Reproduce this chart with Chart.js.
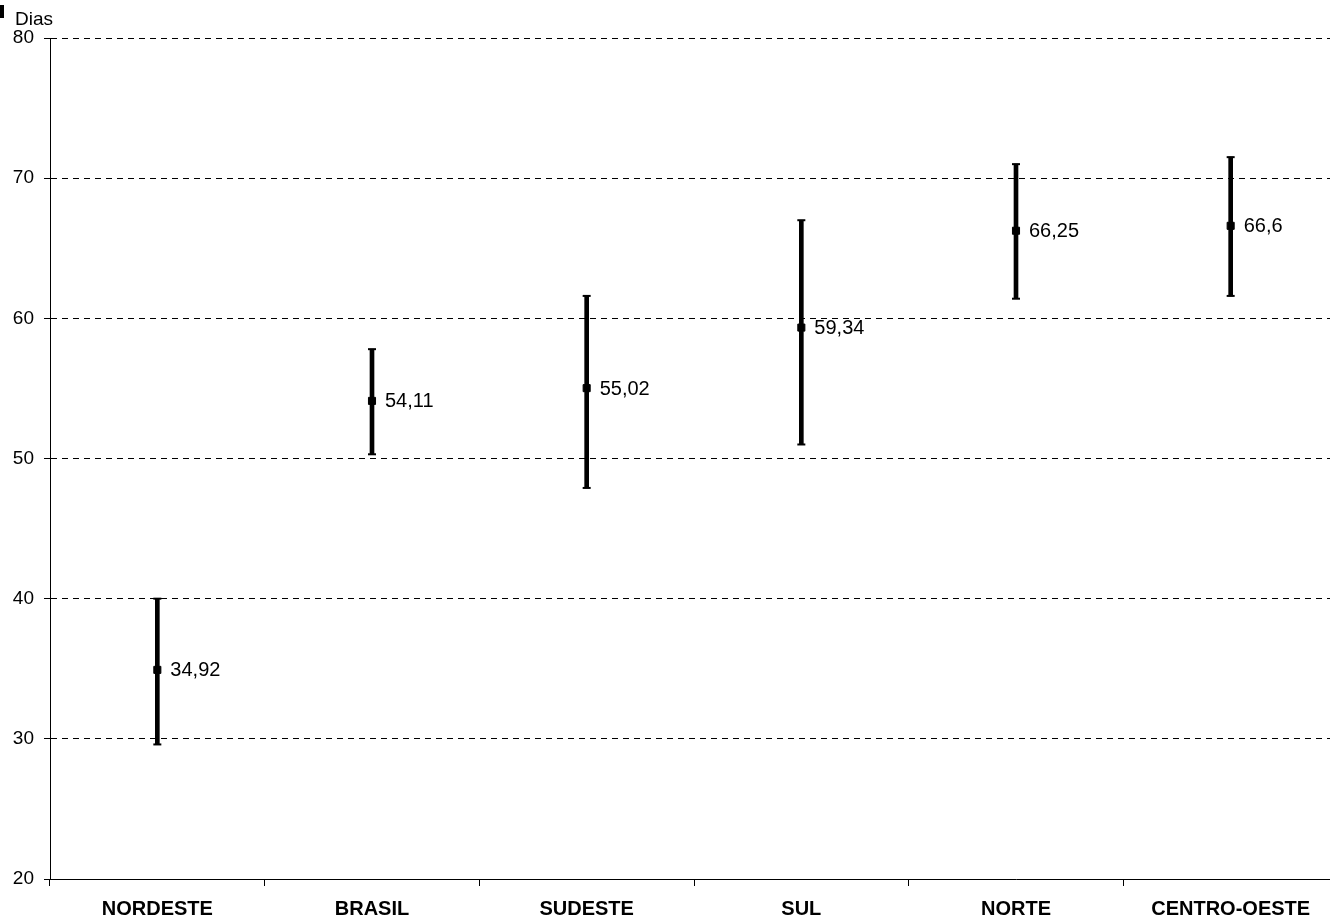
<!DOCTYPE html>
<html lang="pt">
<head>
<meta charset="utf-8">
<title>Dias por região</title>
<script src="https://cdn.jsdelivr.net/npm/chart.js@4/dist/chart.umd.min.js"></script>
<style>
    html, body { margin: 0; padding: 0; background: #fff; overflow: hidden; }
    #chartBox { width: 1344px; height: 920px; }
</style>
</head>
<body>
<div id="chartBox"><canvas id="diasChart" width="1344" height="920"></canvas></div>
<script>
// Data
const regions = ['NORDESTE', 'BRASIL', 'SUDESTE', 'SUL', 'NORTE', 'CENTRO-OESTE'];
const meanDays = [34.92, 54.11, 55.02, 59.34, 66.25, 66.6];
const lowerDays = [29.6, 50.3, 47.9, 51.0, 61.4, 61.6];
const upperDays = [40.0, 57.8, 61.6, 67.0, 71.0, 71.5];
const yTicks = [20, 30, 40, 50, 60, 70, 80];

const FONT = 'Arial, "Liberation Sans", sans-serif';

// Chart instance
let diasChart = null;

// Small header: black marker + "Dias" unit label
const headerPlugin = {
    id: 'headerPlugin',
    afterDraw(chart) {
        const ctx = chart.ctx;
        ctx.save();
        ctx.fillStyle = '#000';
        ctx.fillRect(0, 5, 4, 13);
        ctx.font = '19px ' + FONT;
        ctx.textAlign = 'left';
        ctx.textBaseline = 'alphabetic';
        ctx.fillText('Dias', 15, 25);
        ctx.restore();
    }
};

// Value labels to the right of each mean marker
const valueLabelPlugin = {
    id: 'valueLabelPlugin',
    afterDatasetsDraw(chart) {
        const ctx = chart.ctx;
        const meta = chart.getDatasetMeta(2);
        ctx.save();
        ctx.fillStyle = '#000';
        ctx.font = '20px ' + FONT;
        ctx.textAlign = 'left';
        ctx.textBaseline = 'middle';
        meta.data.forEach((pt, i) => {
            const txt = String(meanDays[i]).replace('.', ',');
            ctx.fillText(txt, pt.x + 13, pt.y + 1);
        });
        ctx.restore();
    }
};

function initializeChart() {
    const ctx = document.getElementById('diasChart');
    if (!ctx || typeof Chart === 'undefined') {
        console.warn('Chart.js not loaded');
        return;
    }
    if (diasChart) diasChart.destroy();

    const ranges = regions.map((r, i) => [lowerDays[i], upperDays[i]]);

    diasChart = new Chart(ctx, {
        type: 'bar',
        data: {
            labels: regions,
            datasets: [{
                // vertical error bar
                type: 'bar',
                data: ranges,
                backgroundColor: '#000',
                borderWidth: 0,
                barThickness: 4,
                order: 3
            }, {
                // lower cap
                type: 'line',
                data: lowerDays,
                showLine: false,
                pointStyle: 'line',
                pointRadius: 4,
                borderWidth: 2,
                borderColor: '#000',
                order: 2
            }, {
                // mean marker
                type: 'line',
                data: meanDays,
                showLine: false,
                pointStyle: 'rect',
                pointRadius: 5,
                borderWidth: 1,
                borderColor: '#000',
                backgroundColor: '#000',
                order: 1
            }, {
                // upper cap
                type: 'line',
                data: upperDays,
                showLine: false,
                pointStyle: 'line',
                pointRadius: 4,
                borderWidth: 2,
                borderColor: '#000',
                order: 2
            }]
        },
        options: {
            responsive: false,
            animation: false,
            events: [],
            layout: { padding: { top: 38, right: 4, left: 0, bottom: 0 } },
            plugins: {
                legend: { display: false },
                tooltip: { enabled: false }
            },
            scales: {
                x: {
                    offset: true,
                    grid: {
                        offset: true,
                        drawOnChartArea: false,
                        drawTicks: true,
                        tickLength: 7,
                        tickColor: '#000',
                        color: '#000'
                    },
                    border: { display: true, color: '#000', width: 1 },
                    ticks: {
                        color: '#000',
                        padding: 11,
                        maxRotation: 0,
                        autoSkip: false,
                        font: { family: FONT, size: 20, weight: 'bold' }
                    },
                    afterFit(scale) { scale.height = 41; }
                },
                y: {
                    min: 20,
                    max: 80,
                    afterBuildTicks(scale) {
                        scale.ticks = yTicks.map(v => ({ value: v }));
                    },
                    grid: {
                        color: '#000',
                        lineWidth: 1,
                        drawTicks: true,
                        tickLength: 6,
                        tickColor: '#000',
                        tickBorderDash: []
                    },
                    border: { display: true, color: '#000', width: 1, dash: [6, 5] },
                    ticks: {
                        color: '#000',
                        padding: 10,
                        font: { family: FONT, size: 19 }
                    },
                    afterFit(scale) { scale.width = 50; }
                }
            }
        },
        plugins: [headerPlugin, valueLabelPlugin]
    });
    console.log('chart ready');
}

document.addEventListener('DOMContentLoaded', initializeChart);
</script>
</body>
</html>
